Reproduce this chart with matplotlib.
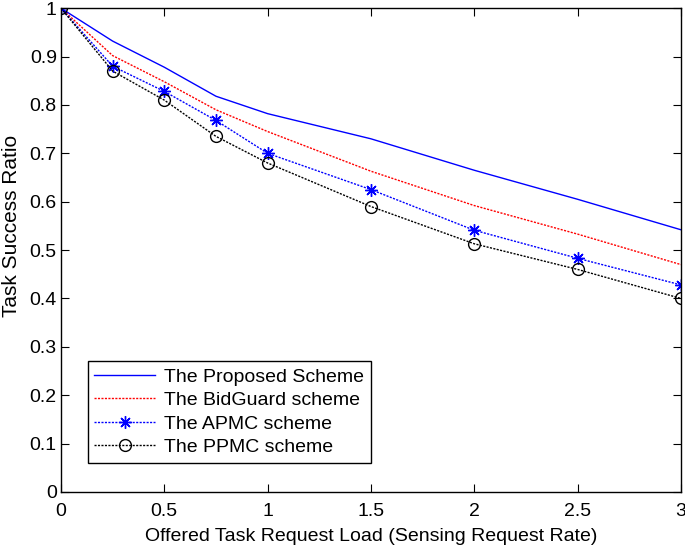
import matplotlib
matplotlib.use('Agg')
from matplotlib import pyplot as plt

plt.rcParams['font.family'] = ['Liberation Sans', 'DejaVu Sans']

# offered load (sensing request rate)
load = [0, 0.25, 0.5, 0.75, 1, 1.5, 2, 2.5, 3]

# task success ratio for each scheme
proposed = [1.0, 0.932, 0.878, 0.818, 0.782, 0.730, 0.665, 0.605, 0.542]
bidguard = [1.0, 0.902, 0.848, 0.790, 0.745, 0.663, 0.592, 0.533, 0.470]
apmc = [1.0, 0.880, 0.828, 0.768, 0.700, 0.625, 0.541, 0.483, 0.428]
ppmc = [1.0, 0.870, 0.810, 0.735, 0.680, 0.590, 0.513, 0.460, 0.400]

xticks = [0, 0.5, 1, 1.5, 2, 2.5, 3]
yticks = [0, 0.1, 0.2, 0.3, 0.4, 0.5, 0.6, 0.7, 0.8, 0.9, 1]

fig = plt.figure(figsize=(6.85, 5.46), dpi=100)
ax = fig.add_axes([0.089, 0.099, 0.905, 0.886])

dots = (0, (1.5, 1))
ax.plot(load, proposed, '-', color='#0000ff', lw=1.0, label='The Proposed Scheme')
ax.plot(load, bidguard, color='#ff0000', ls=dots, lw=1.0, label='The BidGuard scheme')
# matlab-style asterisk (plus and cross together)
ax.plot(load, apmc, color='#0000ff', ls=dots, lw=1.0, marker=(8, 2, 0), ms=9,
        markeredgewidth=1.0, label='The APMC scheme')
ax.plot(load, ppmc, color='black', ls=dots, lw=1.0, marker='o', ms=8.5,
        mfc='none', markeredgewidth=1.0, label='The PPMC scheme')

ax.set_xlim(0, 3)
ax.set_ylim(0, 1)
ax.set_xticks(xticks)
ax.set_xticklabels([('%g' % v) for v in xticks])
ax.set_yticks(yticks)
ax.set_yticklabels([('%g' % v) for v in yticks])
ax.tick_params(direction='in', top=True, right=True, labelsize=14, length=6, pad=3)
ax.tick_params(axis='x', pad=8)
for s in ax.spines.values():
    s.set_linewidth(1.0)

ax.set_xlabel('Offered Task Request Load (Sensing Request Rate)', fontsize=14, labelpad=6)
ax.set_ylabel('Task Success Ratio', fontsize=15, va='center')
ax.yaxis.set_label_coords(-0.079, 0.55)

leg = ax.legend(loc='lower left', bbox_to_anchor=(0.043, 0.06), fontsize=14,
                fancybox=False, framealpha=1, edgecolor='black',
                handlelength=3.1, handletextpad=0.5, borderpad=0.35,
                labelspacing=0.3, borderaxespad=0)
leg.get_frame().set_linewidth(1.0)

fig.savefig('out.png', dpi=100)
